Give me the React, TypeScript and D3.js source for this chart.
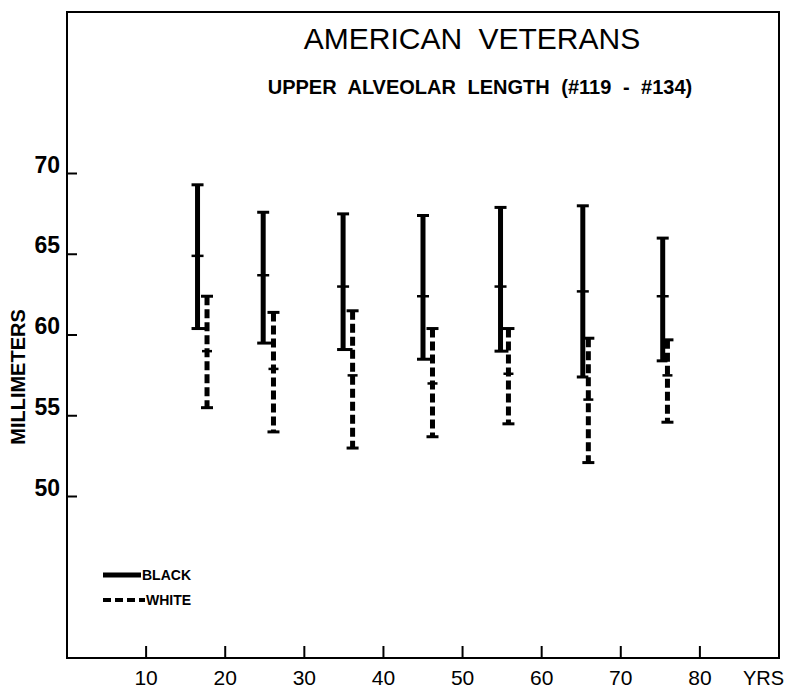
import React, { useEffect, useRef } from 'react';
import * as d3 from 'd3';

// age (years) at which each bar is drawn
const blackAges = [16.5, 24.8, 34.9, 45.0, 54.8, 65.2, 75.3];
const whiteAges = [17.7, 26.1, 36.1, 46.2, 55.8, 65.9, 75.9];

// millimeters: upper / mean / lower
const blackHigh = [69.3, 67.6, 67.5, 67.4, 67.9, 68.0, 66.0];
const blackMean = [64.9, 63.7, 63.0, 62.4, 63.0, 62.7, 62.4];
const blackLow = [60.4, 59.5, 59.1, 58.5, 59.0, 57.4, 58.4];

const whiteHigh = [62.4, 61.4, 61.5, 60.4, 60.4, 59.8, 59.7];
const whiteMean = [59.0, 57.9, 57.5, 57.0, 57.6, 56.0, 57.5];
const whiteLow = [55.5, 54.0, 53.0, 53.7, 54.5, 52.1, 54.6];

const yTicks = [50, 55, 60, 65, 70];
const xTicks = [10, 20, 30, 40, 50, 60, 70, 80];

const FONT = "'Liberation Sans', Arial, sans-serif";

export default function App() {
  const ref = useRef<SVGSVGElement>(null);

  useEffect(() => {
    const svg = d3.select(ref.current);
    svg.selectAll('*').remove();

    const left = 67, right = 779, top = 12, bottom = 658;
    const x = d3.scaleLinear().domain([0, 90]).range([left, right]);
    const y = d3.scaleLinear().domain([40, 80]).range([bottom, top]);

    // frame
    svg.append('rect')
      .attr('x', left).attr('y', top)
      .attr('width', right - left).attr('height', bottom - top)
      .attr('fill', 'none').attr('stroke', '#000').attr('stroke-width', 2);

    // y ticks
    const yt = svg.append('g');
    yTicks.forEach(function (v) {
      yt.append('line')
        .attr('x1', left).attr('x2', left + 10)
        .attr('y1', y(v)).attr('y2', y(v))
        .attr('stroke', '#000').attr('stroke-width', 2);
      yt.append('text')
        .attr('x', 60).attr('y', y(v) - 1)
        .attr('text-anchor', 'end')
        .style('font-family', FONT).style('font-size', '23px').style('font-weight', 'bold')
        .text(v);
    });

    // x ticks
    const xt = svg.append('g');
    xTicks.forEach(function (v) {
      xt.append('line')
        .attr('x1', x(v)).attr('x2', x(v))
        .attr('y1', bottom).attr('y2', bottom - 12)
        .attr('stroke', '#000').attr('stroke-width', 2);
      xt.append('text')
        .attr('x', x(v)).attr('y', 685)
        .attr('text-anchor', 'middle')
        .style('font-family', FONT).style('font-size', '21px')
        .text(v);
    });
    svg.append('text')
      .attr('x', 784).attr('y', 685).attr('text-anchor', 'end')
      .style('font-family', FONT).style('font-size', '20px')
      .text('YRS');

    // axis title
    svg.append('text')
      .attr('transform', 'translate(25,377) rotate(-90)')
      .attr('text-anchor', 'middle')
      .style('font-family', FONT).style('font-size', '20px').style('font-weight', 'bold')
      .text('MILLIMETERS');

    // titles
    svg.append('text')
      .attr('x', 472).attr('y', 49).attr('text-anchor', 'middle')
      .style('font-family', FONT).style('font-size', '30px')
      .style('word-spacing', '8px')
      .text('AMERICAN VETERANS');
    svg.append('text')
      .attr('x', 480).attr('y', 94).attr('text-anchor', 'middle')
      .style('font-family', FONT).style('font-size', '20px').style('font-weight', 'bold')
      .style('word-spacing', '6px')
      .text('UPPER ALVEOLAR LENGTH (#119 - #134)');

    const bars = svg.append('g');

    // white bars (dashed)
    whiteAges.forEach(function (a, i) {
      const cx = x(a);
      bars.append('line')
        .attr('x1', cx).attr('x2', cx)
        .attr('y1', y(whiteHigh[i])).attr('y2', y(whiteLow[i]))
        .attr('stroke', '#000').attr('stroke-width', 5)
        .attr('stroke-dasharray', '9,4');
      [whiteHigh[i], whiteLow[i]].forEach(function (v) {
        bars.append('line')
          .attr('x1', cx - 6).attr('x2', cx + 6)
          .attr('y1', y(v)).attr('y2', y(v))
          .attr('stroke', '#000').attr('stroke-width', 3);
      });
      bars.append('line')
        .attr('x1', cx - 5).attr('x2', cx + 5)
        .attr('y1', y(whiteMean[i])).attr('y2', y(whiteMean[i]))
        .attr('stroke', '#000').attr('stroke-width', 2.5);
    });

    // black bars (solid)
    blackAges.forEach(function (a, i) {
      const cx = x(a);
      const wx = x(whiteAges[i]);
      bars.append('line')
        .attr('x1', cx).attr('x2', cx)
        .attr('y1', y(blackHigh[i])).attr('y2', y(blackLow[i]))
        .attr('stroke', '#000').attr('stroke-width', 5);
      bars.append('line')
        .attr('x1', cx - 6).attr('x2', cx + 6)
        .attr('y1', y(blackHigh[i])).attr('y2', y(blackHigh[i]))
        .attr('stroke', '#000').attr('stroke-width', 3);
      bars.append('line')
        .attr('x1', cx - 6).attr('x2', wx)
        .attr('y1', y(blackLow[i])).attr('y2', y(blackLow[i]))
        .attr('stroke', '#000').attr('stroke-width', 3);
      bars.append('line')
        .attr('x1', cx - 6).attr('x2', cx + 6)
        .attr('y1', y(blackMean[i])).attr('y2', y(blackMean[i]))
        .attr('stroke', '#000').attr('stroke-width', 2.5);
    });

    // legend
    const lg = svg.append('g');
    lg.append('line')
      .attr('x1', 103).attr('x2', 141).attr('y1', 575).attr('y2', 575)
      .attr('stroke', '#000').attr('stroke-width', 5);
    lg.append('text')
      .attr('x', 142).attr('y', 580)
      .style('font-family', FONT).style('font-size', '14px').style('font-weight', 'bold')
      .text('BLACK');
    lg.append('line')
      .attr('x1', 103).attr('x2', 145).attr('y1', 600).attr('y2', 600)
      .attr('stroke', '#000').attr('stroke-width', 4)
      .attr('stroke-dasharray', '8,4');
    lg.append('text')
      .attr('x', 146).attr('y', 605)
      .style('font-family', FONT).style('font-size', '14px').style('font-weight', 'bold')
      .text('WHITE');
  }, []);

  return (
    <svg ref={ref} width={786} height={690}
      style={{ position: 'absolute', left: 0, top: 0, background: '#fff' }}>
    </svg>
  );
}
